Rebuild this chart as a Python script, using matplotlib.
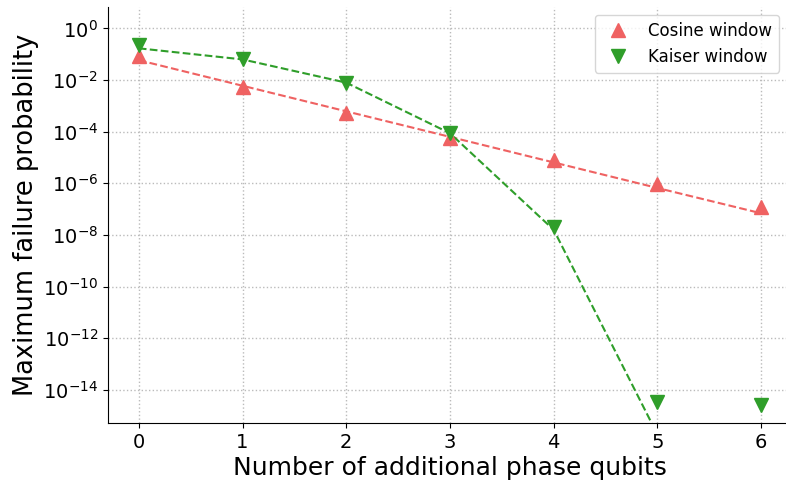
#!/usr/bin/env python3
# -*- coding: utf-8 -*-
import numpy as np
import matplotlib
matplotlib.use("Agg")
import matplotlib.pyplot as plt
from matplotlib.ticker import FixedLocator, NullLocator, LogFormatterSciNotation

# -------------------------
# Data (log10 values)
# -------------------------
qubits = np.arange(7)
cosine_pts_log = [-1.07, -2.28, -3.29, -4.26, -5.10, -6.03, -6.93]
cosine_fit_log = [-1.23, -2.22, -3.21, -4.20, -5.19, -6.18, -7.16]
kaiser_pts_log = [-0.65, -1.20, -2.10, -4.06, -7.68, -14.46, -14.58]
kaiser_fit_x = [0, 1, 2, 3, 4, 5]
kaiser_fit_log = [-0.77, -1.20, -2.10, -4.06, -7.80, -15.73]

RED = "#ef6262"
GREEN = "#2f9e2a"

fig = plt.figure(figsize=(7.86, 4.82), dpi=100)
ax = fig.add_axes([0.137, 0.122, 0.871, 0.864])

ax.plot(qubits, 10.0 ** np.array(cosine_fit_log), "--", color=RED, lw=1.5, zorder=2)
ax.plot(kaiser_fit_x, 10.0 ** np.array(kaiser_fit_log), "--", color=GREEN, lw=1.5, zorder=2)
ax.plot(qubits, 10.0 ** np.array(cosine_pts_log), "^", color=RED, ms=10.5, ls="none",
        label="Cosine window", zorder=3)
ax.plot(qubits, 10.0 ** np.array(kaiser_pts_log), "v", color=GREEN, ms=10.5, ls="none",
        label="Kaiser window", zorder=3)

ax.set_yscale("log")
ax.set_xlim(-0.3, 6.3)
ax.set_ylim(10 ** -15.29, 10 ** 0.84)
ax.yaxis.set_major_locator(FixedLocator([10.0 ** e for e in range(0, -15, -2)]))
ax.yaxis.set_major_formatter(LogFormatterSciNotation())
ax.yaxis.set_minor_locator(NullLocator())
ax.set_xticks(qubits)

ax.grid(True, ls=":", color="#bbbbbb", lw=1)
ax.set_axisbelow(True)
for s in ["top", "right"]:
    ax.spines[s].set_visible(False)
ax.tick_params(labelsize=14)

ax.set_xlabel("Number of additional phase qubits", fontsize=18, labelpad=3)
ax.set_ylabel("Maximum failure probability", fontsize=18.5, labelpad=3)
ax.legend(loc="upper right", fontsize=12, bbox_to_anchor=(0.993, 1.0))

fig.savefig("out.png", dpi=100)
